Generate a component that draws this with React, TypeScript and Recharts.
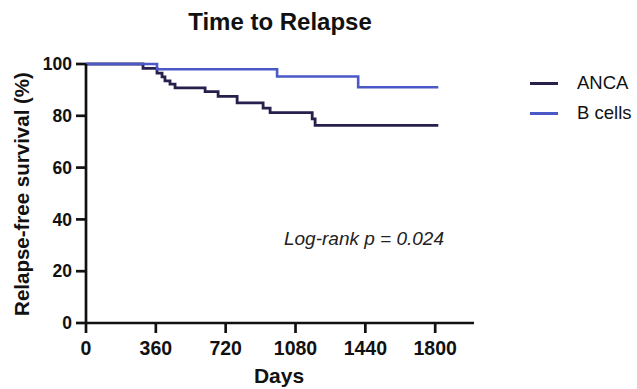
import { LineChart, Line, XAxis, YAxis, Legend } from 'recharts';

// Kaplan-Meier steps (days, % relapse-free)
const ancaDays = [0, 294, 366, 392, 407, 433, 459, 614, 681, 779, 913, 949, 1166, 1181, 1816];
const ancaSurv = [100, 98.3, 96.5, 95.0, 93.5, 92.2, 90.8, 89.3, 87.5, 85.0, 83.0, 81.2, 78.8, 76.3, 76.3];
const bcellDays = [0, 366, 985, 1403, 1816];
const bcellSurv = [100, 98.0, 95.2, 91.0, 91.0];

const xTicks = [0, 360, 720, 1080, 1440, 1800];
const yTicks = [0, 20, 40, 60, 80, 100];

const seriesNames = ['ANCA', 'B cells'];
const seriesColors = ['#281f4d', '#4a58c8'];

const FONT = '"Liberation Sans", Arial, Helvetica, sans-serif';

const ancaData = ancaDays.map((d, i) => ({ day: d, surv: ancaSurv[i] }));
const bcellData = bcellDays.map((d, i) => ({ day: d, surv: bcellSurv[i] }));

const LegendBox = () => (
    <div style={{ fontFamily: FONT, fontSize: 18.5, color: '#111' }}>
        {seriesNames.map((name, i) => (
            <div key={name} style={{ display: 'flex', alignItems: 'center', height: 30 }}>
                <span style={{ display: 'inline-block', width: 28, height: 3, background: seriesColors[i], marginRight: 19 }} />
                <span>{name}</span>
            </div>
        ))}
    </div>
);

const App = () => {
    const xTickStyle = { fill: '#111', fontSize: 19.5, fontWeight: 'bold' as const, fontFamily: FONT };
    const yTickStyle = { fill: '#111', fontSize: 17.5, fontWeight: 'bold' as const, fontFamily: FONT };
    return (
        <div style={{ position: 'absolute', left: 0, top: 0, width: 637, height: 389, background: '#fff' }}>
            <LineChart width={637} height={389} margin={{ top: 64, right: 163, bottom: 0, left: 0 }}>
                <XAxis
                    dataKey="day"
                    type="number"
                    domain={[0, 2000]}
                    ticks={xTicks}
                    allowDuplicatedCategory={false}
                    height={66}
                    stroke="#111"
                    strokeWidth={2.7}
                    tickSize={10}
                    tickMargin={8}
                    tick={xTickStyle}
                />
                <YAxis
                    type="number"
                    domain={[0, 100]}
                    ticks={yTicks}
                    width={86}
                    stroke="#111"
                    strokeWidth={2.7}
                    tickSize={10}
                    tickMargin={4}
                    tick={yTickStyle}
                />
                <Legend
                    layout="vertical"
                    align="center"
                    verticalAlign="middle"
                    content={() => <LegendBox />}
                    wrapperStyle={{ left: 530, top: 68, width: 110 }}
                />
                <Line
                    data={ancaData}
                    dataKey="surv"
                    name={seriesNames[0]}
                    type="stepAfter"
                    stroke={seriesColors[0]}
                    strokeWidth={2.8}
                    dot={false}
                    isAnimationActive={false}
                />
                <Line
                    data={bcellData}
                    dataKey="surv"
                    name={seriesNames[1]}
                    type="stepAfter"
                    stroke={seriesColors[1]}
                    strokeWidth={2.6}
                    dot={false}
                    isAnimationActive={false}
                />
                <text x={280} y={30} textAnchor="middle" fontFamily={FONT} fontSize={24} fontWeight="bold" fill="#111">
                    Time to Relapse
                </text>
                <text x={279} y={383} textAnchor="middle" fontFamily={FONT} fontSize={21} fontWeight="bold" fill="#111">
                    Days
                </text>
                <text
                    x={29}
                    y={194}
                    transform="rotate(-90 29 194)"
                    textAnchor="middle"
                    fontFamily={FONT}
                    fontSize={20.5}
                    fontWeight="bold"
                    fill="#111"
                >
                    Relapse-free survival (%)
                </text>
                <text x={364} y={245} textAnchor="middle" fontFamily={FONT} fontSize={19} fontStyle="italic" fill="#222">
                    Log-rank p = 0.024
                </text>
            </LineChart>
        </div>
    );
};

export default App;
